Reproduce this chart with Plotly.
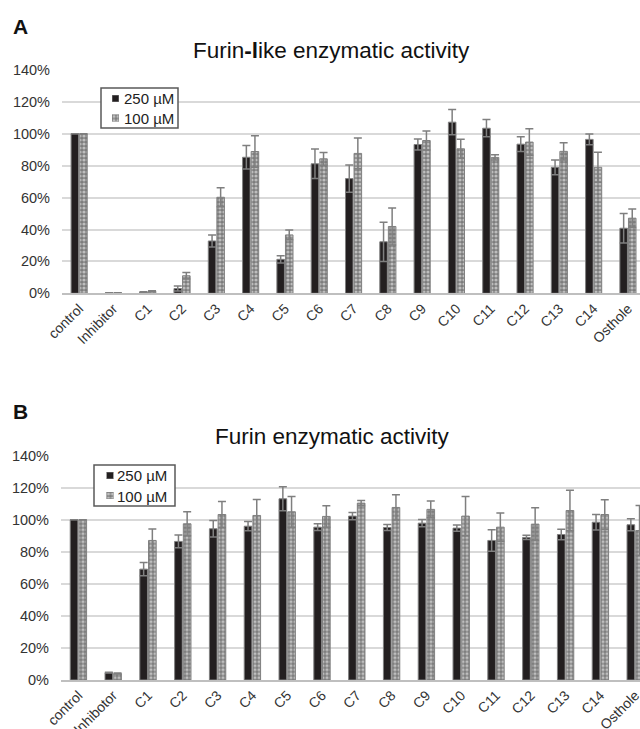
import plotly.graph_objects as go

cats_a = ["control", "Inhibitor", "C1", "C2", "C3", "C4", "C5", "C6", "C7", "C8",
          "C9", "C10", "C11", "C12", "C13", "C14", "Osthole"]
cats_b = ["control", "Inhibotor", "C1", "C2", "C3", "C4", "C5", "C6", "C7", "C8",
          "C9", "C10", "C11", "C12", "C13", "C14", "Osthole"]

a_250 = [100, 0.3, 0.8, 3.0, 32.8, 85.3, 21.3, 81.2, 71.9, 32.3, 93.3, 107.3, 103.5, 93.5, 79.0, 96.5, 40.8]
a_250_err = [0, 0, 0.2, 1.6, 3.8, 7.4, 2.3, 9.2, 8.5, 12.3, 3.4, 7.9, 5.4, 4.6, 4.6, 3.3, 9.2]
a_100 = [100, 0.3, 1.3, 11.0, 60.2, 88.9, 36.6, 84.3, 87.7, 41.9, 95.8, 90.6, 85.2, 94.8, 89.0, 79.0, 47.1]
a_100_err = [0, 0, 0.3, 2.0, 6.0, 9.8, 3.1, 4.0, 9.6, 11.6, 6.0, 6.0, 1.7, 8.3, 5.4, 9.4, 5.8]

b_250 = [100, 4.6, 69.2, 86.5, 94.4, 96.0, 113.1, 95.4, 102.3, 95.2, 97.9, 94.8, 87.1, 89.0, 90.8, 98.5, 96.9]
b_250_err = [0, 0.3, 4.2, 4.0, 5.2, 2.9, 7.5, 2.1, 2.3, 1.9, 2.3, 1.9, 6.7, 1.3, 3.3, 4.8, 3.8]
b_100 = [100, 4.0, 87.1, 97.5, 103.3, 102.7, 105.0, 102.1, 110.4, 107.7, 106.5, 102.3, 95.4, 97.3, 105.8, 103.3, 93.3]
b_100_err = [0, 0.3, 7.1, 7.5, 8.1, 10.0, 9.6, 6.7, 1.7, 7.9, 5.2, 12.3, 8.8, 10.2, 12.7, 9.2, 15.6]

series_names = ["250 µM", "100 µM"]
y_ticks = [0, 20, 40, 60, 80, 100, 120, 140]
y_tick_text = ["0%", "20%", "40%", "60%", "80%", "100%", "120%", "140%"]

FONT = "Liberation Sans, Arial, sans-serif"
W, H = 640, 729
BLACK = "#231f20"
OUTLINE = "#808080"
ERR = "#7f7f7f"

hatch = dict(shape=".", bgcolor="#7c7c7c", fgcolor="white", size=4, solidity=0.5)
black_marker = dict(color=BLACK, line=dict(color=OUTLINE, width=1))
hatch_marker = dict(color="white", pattern=hatch, line=dict(color=OUTLINE, width=1))

fig = go.Figure()


def add_pair(cats, v1, e1, v2, e2, xa, ya):
    fig.add_trace(go.Bar(
        x=cats, y=v1, name=series_names[0], xaxis=xa, yaxis=ya, showlegend=False,
        marker=black_marker,
        error_y=dict(type="data", array=e1, color=ERR, thickness=1.5, width=4),
    ))
    fig.add_trace(go.Bar(
        x=cats, y=v2, name=series_names[1], xaxis=xa, yaxis=ya, showlegend=False,
        marker=hatch_marker,
        error_y=dict(type="data", array=e2, color=ERR, thickness=1.5, width=4),
    ))


add_pair(cats_a, a_250, a_250_err, a_100, a_100_err, "x", "y")
add_pair(cats_b, b_250, b_250_err, b_100, b_100_err, "x2", "y2")


def yd(top_px, bottom_px):
    return [1 - bottom_px / H, 1 - top_px / H]


def xd(left_px, right_px):
    return [left_px / W, min(1, right_px / W)]


xcommon = dict(type="category", showgrid=False, showline=True, linecolor="#bfbfbf",
               linewidth=1.5, ticks="", tickangle=-45, automargin=False,
               tickfont=dict(family=FONT, size=14, color="#333333"), zeroline=False)
ycommon = dict(range=[0, 140], tickmode="array", tickvals=y_ticks, ticktext=y_tick_text,
               showgrid=True, gridcolor="#d9d9d9", gridwidth=1.5, showline=False,
               zeroline=False, ticks="", automargin=False, ticklabelstandoff=11,
               tickfont=dict(family=FONT, size=14.5, color="#333333"))

span_a = 578 / 34.3
span_b = 579 / 34.8
layout_axes = dict(
    xaxis=dict(domain=xd(62, 640), range=[-0.5, -0.5 + span_a], anchor="y", **xcommon),
    yaxis=dict(domain=yd(70, 293.3), anchor="x", **ycommon),
    xaxis2=dict(domain=xd(61, 640), range=[-0.5, -0.5 + span_b], anchor="y2", **xcommon),
    yaxis2=dict(domain=yd(455.7, 680), anchor="x2", **ycommon),
)

# legend boxes: (box left, top, right, bottom), symbol left, symbol rows (top), text rows (center)
legends = [
    dict(box=(101, 88, 178, 128), sx=112, sy=[95, 114.5], tx=122, ty=[98.5, 118]),
    dict(box=(94, 465, 175, 506), sx=106.5, sy=[472, 492], tx=115, ty=[476, 496]),
]
shapes = []
annotations = []


def add_cell(ax_i, x0, x1, y0, y1, marker):
    sxa, sya = f"x{ax_i}", f"y{ax_i}"
    fig.add_trace(go.Bar(x=[0], y=[1], width=[1], xaxis=sxa, yaxis=sya,
                         marker=marker, showlegend=False, hoverinfo="skip"))
    layout_axes[f"xaxis{ax_i}"] = dict(domain=xd(x0, x1), range=[-0.5, 0.5],
                                       visible=False, anchor=sya, fixedrange=True)
    layout_axes[f"yaxis{ax_i}"] = dict(domain=yd(y0, y1), range=[0, 1],
                                       visible=False, anchor=sxa, fixedrange=True)


# white legend backgrounds (axes 3, 4) drawn before symbols (axes 5..8)
for i, lg in enumerate(legends):
    x0, y0, x1, y1 = lg["box"]
    add_cell(3 + i, x0, x1, y0, y1, dict(color="white", line=dict(width=0)))
    shapes.append(dict(type="rect", xref="paper", yref="paper",
                       x0=x0 / W, x1=x1 / W, y0=1 - y1 / H, y1=1 - y0 / H,
                       line=dict(color="#595959", width=1.5), fillcolor="rgba(0,0,0,0)",
                       layer="above"))

ax_i = 5
for lg in legends:
    for k, mk in enumerate([black_marker, hatch_marker]):
        add_cell(ax_i, lg["sx"], lg["sx"] + 7, lg["sy"][k], lg["sy"][k] + 7, mk)
        annotations.append(dict(text=series_names[k], x=lg["tx"] / W, y=1 - lg["ty"][k] / H,
                                xanchor="left", yanchor="middle",
                                font=dict(family=FONT, size=15, color="#222")))
        ax_i += 1

fig.update_layout(
    width=W, height=H,
    margin=dict(l=0, r=0, t=0, b=0),
    paper_bgcolor="white", plot_bgcolor="rgba(0,0,0,0)",
    barmode="group", bargap=0.5, bargroupgap=0.12,
    showlegend=False,
    **layout_axes,
)

annotations += [
    dict(text="<b>A</b>", x=11 / W, y=1 - 27 / H, xanchor="left", yanchor="middle",
         font=dict(family=FONT, size=21, color="#111")),
    dict(text="<b>B</b>", x=11 / W, y=1 - 411 / H, xanchor="left", yanchor="middle",
         font=dict(family=FONT, size=21, color="#111")),
    dict(text="Furin<b>-l</b>ike enzymatic activity", x=331 / W, y=1 - 50 / H,
         xanchor="center", yanchor="middle", font=dict(family=FONT, size=22.5, color="#111")),
    dict(text="Furin enzymatic activity", x=332 / W, y=1 - 436 / H,
         xanchor="center", yanchor="middle", font=dict(family=FONT, size=22.5, color="#111")),
]
for a in annotations:
    a.update(xref="paper", yref="paper", showarrow=False)
fig.update_layout(annotations=annotations, shapes=shapes)

fig.write_html("out.html", config={"displayModeBar": False},
               post_script="document.body.style.margin='0';document.body.style.overflow='hidden';")
